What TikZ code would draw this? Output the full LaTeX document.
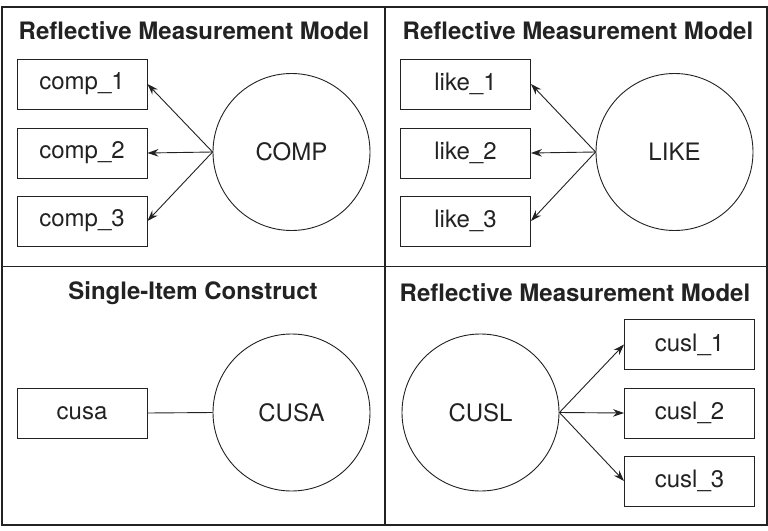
\documentclass[tikz,border=0pt]{standalone}
\usepackage{fontspec}
\setmainfont{TeX Gyre Heros}
\usetikzlibrary{arrows.meta}
\definecolor{ink}{HTML}{222222}
\begin{document}
\begin{tikzpicture}[x=1pt,y=-1pt,
  frameline/.style={draw=ink,line width=1.4pt},
  itembox/.style={draw=ink,line width=0.9pt,rectangle,minimum width=130pt,minimum height=50pt,inner sep=0pt,font=\fontsize{24}{28}\selectfont,text=ink},
  latent/.style={draw=ink,line width=0.9pt,circle,minimum size=157pt,inner sep=0pt,font=\fontsize{24}{28}\selectfont,text=ink},
  paneltitle/.style={font=\fontsize{24}{28}\selectfont\bfseries,text=ink,inner sep=0pt},
  loading/.style={draw=ink,line width=0.9pt,-{Stealth[length=11pt,width=7.5pt]}}]
\useasboundingbox (0,0) rectangle (768,530);
\fill[white] (0,0) rectangle (768,530);
% frame
\draw[frameline] (2,7) rectangle (767,525);
\draw[frameline] (385,7) -- (385,525);
\draw[frameline] (2,266.5) -- (767,266.5);
% titles
\node[paneltitle] (t1) at (194,31) {Reflective Measurement Model};
\node[paneltitle] (t2) at (578,31) {Reflective Measurement Model};
\node[paneltitle] (t3) at (193,293) {Single-Item Construct};
\node[paneltitle] (t4) at (575,293) {Reflective Measurement Model};
% panel 1
\node[itembox] (c1) at (82,84) {comp\_1};
\node[itembox] (c2) at (82,153) {comp\_2};
\node[itembox] (c3) at (82,221) {comp\_3};
\node[latent] (COMP) at (291.5,152) {COMP};
\draw[loading] (COMP.west) -- (c1.east);
\draw[loading] (COMP.west) -- (c2.east);
\draw[loading] (COMP.west) -- (c3.east);
% panel 2
\node[itembox] (l1) at (465.5,84) {like\_1};
\node[itembox] (l2) at (465.5,153) {like\_2};
\node[itembox] (l3) at (465.5,221) {like\_3};
\node[latent] (LIKE) at (674.5,152) {LIKE};
\draw[loading] (LIKE.west) -- (l1.east);
\draw[loading] (LIKE.west) -- (l2.east);
\draw[loading] (LIKE.west) -- (l3.east);
% panel 3
\node[itembox] (cusa) at (82,413) {cusa};
\node[latent] (CUSA) at (291.5,412.5) {CUSA};
\draw[draw=ink,line width=0.9pt] (cusa.east) -- (CUSA.west);
% panel 4
\node[latent] (CUSL) at (480.5,412.5) {CUSL};
\node[itembox] (u1) at (689.5,344.5) {cusl\_1};
\node[itembox] (u2) at (689.5,413) {cusl\_2};
\node[itembox] (u3) at (689.5,481) {cusl\_3};
\draw[loading] (CUSL.east) -- (u1.west);
\draw[loading] (CUSL.east) -- (u2.west);
\draw[loading] (CUSL.east) -- (u3.west);
\end{tikzpicture}
\end{document}
